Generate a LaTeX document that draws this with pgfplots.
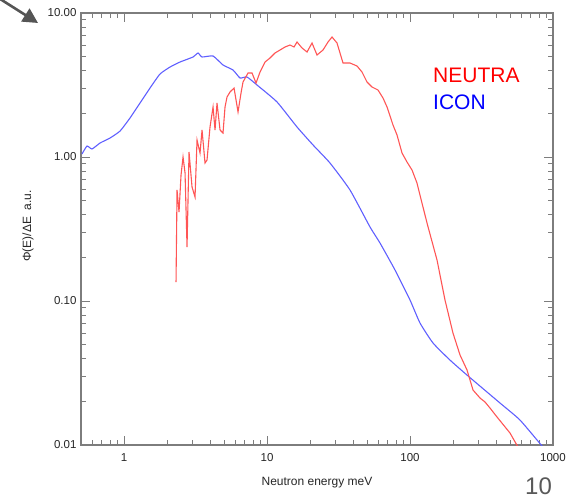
\documentclass[border=0pt]{standalone}
\usepackage{fontspec}
\setmainfont{Liberation Sans}
\usepackage{pgfplots}
\pgfplotsset{compat=1.18}
\usetikzlibrary{arrows.meta}
\definecolor{axisGray}{RGB}{125,125,125}
\definecolor{arrowGray}{RGB}{85,85,85}
\definecolor{neutraRed}{RGB}{255,85,85}
\definecolor{iconBlue}{RGB}{95,95,255}

\begin{document}
\begin{tikzpicture}[x=1pt,y=1pt]
\useasboundingbox (-81,-56) rectangle (490,445);
\begin{axis}[
    at={(0,0)}, anchor=south west,
    scale only axis, width=472pt, height=432pt,
    xmode=log, ymode=log,
    xmin=0.5, xmax=1000, ymin=0.01, ymax=10,
    axis line style={axisGray, line width=1.2pt},
    tick style={axisGray, line width=0.9pt},
    tick align=inside,
    major tick length=9pt, minor tick length=5pt,
    xtick={1,10,100,1000}, xticklabels={1,10,100,1000},
    ytick={0.01,0.1,1,10}, yticklabels={0.01,0.10,1.00,10.00},
    minor xtick={0.6,0.7,0.8,0.9,2,3,4,5,6,7,8,9,20,30,40,50,60,70,80,90,200,300,400,500,600,700,800,900},
    minor ytick={0.02,0.03,0.04,0.05,0.06,0.07,0.08,0.09,0.2,0.3,0.4,0.5,0.6,0.7,0.8,0.9,2,3,4,5,6,7,8,9},
    ticklabel style={font=\fontsize{11.5}{13}\selectfont, text=black!85},
    xticklabel style={yshift=-5pt},
    yticklabel style={xshift=-1pt},
    xlabel={Neutron energy meV},
    ylabel={Φ(E)/ΔE\ \ a.u.},
    label style={font=\fontsize{12}{14}\selectfont, text=black!85},
    xlabel style={at={(axis description cs:0.5,-0.088)}, anchor=center},
    ylabel style={at={(axis description cs:-0.1123,0.507)}, anchor=center},
]
\addplot[color=iconBlue, line width=1.1pt, smooth, tension=0.3] coordinates {
(0.508,1.049) (0.551,1.192) (0.597,1.137) (0.680,1.251) (0.798,1.355)
(0.938,1.515) (1.101,1.866) (1.294,2.371) (1.520,3.015) (1.785,3.771)
(2.098,4.217) (2.464,4.568) (3.038,4.949) (3.293,5.275) (3.512,4.949)
(4.193,5.028) (4.923,4.355) (5.783,4.019) (6.475,3.537) (7.246,3.594)
(8.512,3.162) (11.75,2.41) (16.21,1.616) (20.98,1.212) (27.58,0.908)
(38.05,0.590) (52.53,0.3265) (61.68,0.2528) (78.54,0.1642) (100,0.1016)
(117.5,0.0703) (144.8,0.0511) (190.4,0.0389) (250.4,0.0306) (426,0.01957)
(587.7,0.01491) (851,0.00968) (1000,0.0082)
};
\addplot[color=neutraRed, line width=1.1pt] coordinates {
(2.310,0.1355) (2.348,0.590) (2.424,0.415) (2.504,0.750) (2.586,1.000)
(2.671,0.774) (2.758,0.237) (2.848,1.083) (2.989,0.619) (3.137,0.527)
(3.240,1.313) (3.400,1.066) (3.512,1.540) (3.685,0.908) (3.805,0.953)
(3.994,1.616) (4.193,2.225) (4.329,1.540) (4.470,2.371) (4.692,1.540)
(4.923,1.468) (5.085,2.225) (5.251,2.610) (5.511,2.828) (5.880,3.015)
(6.270,2.054) (6.580,2.783) (6.795,3.318) (7.364,3.831) (7.855,3.831)
(8.378,3.265) (8.935,3.893) (9.683,4.568) (10.49,4.870) (11.37,5.275)
(12.33,5.535) (13.36,5.806) (14.48,5.995) (15.45,5.806) (16.21,6.290)
(17.57,5.714) (19.05,5.360) (20.64,6.190) (22.37,5.109) (24.64,5.535)
(26.71,6.290) (28.48,6.813) (30.87,6.190) (34.00,4.496) (38.05,4.496)
(42.60,4.285) (46.16,3.893) (50.03,3.318) (54.24,3.063) (59.74,2.919)
(64.74,2.569) (69.07,2.225) (76.04,1.668) (81.12,1.422) (87.93,1.066)
(95.29,0.923) (103.3,0.812) (111.9,0.660) (121.3,0.479) (131.5,0.348)
(154.5,0.1926) (175.7,0.1016) (199.8,0.0599) (223.7,0.0422) (250.4,0.0332)
(275.8,0.0241) (308.7,0.0212) (334.5,0.0199) (362.5,0.01807) (405.9,0.01565)
(500.3,0.01212) (569.1,0.00968)
};
\end{axis}
\node[anchor=base west, inner sep=0pt, text=red, font=\fontsize{21}{24}\selectfont] at (352,362) {NEUTRA};
\node[anchor=base west, inner sep=0pt, text=blue, font=\fontsize{21}{24}\selectfont] at (352,335) {ICON};
\draw[line width=2.6pt, color=arrowGray, -{Triangle[length=15pt,width=15pt]}] (-84,448) -- (-43,422);
\node[anchor=base west, inner sep=0pt, text=black!65, font=\fontsize{24}{26}\selectfont] at (444,-50) {10};
\end{tikzpicture}
\end{document}
